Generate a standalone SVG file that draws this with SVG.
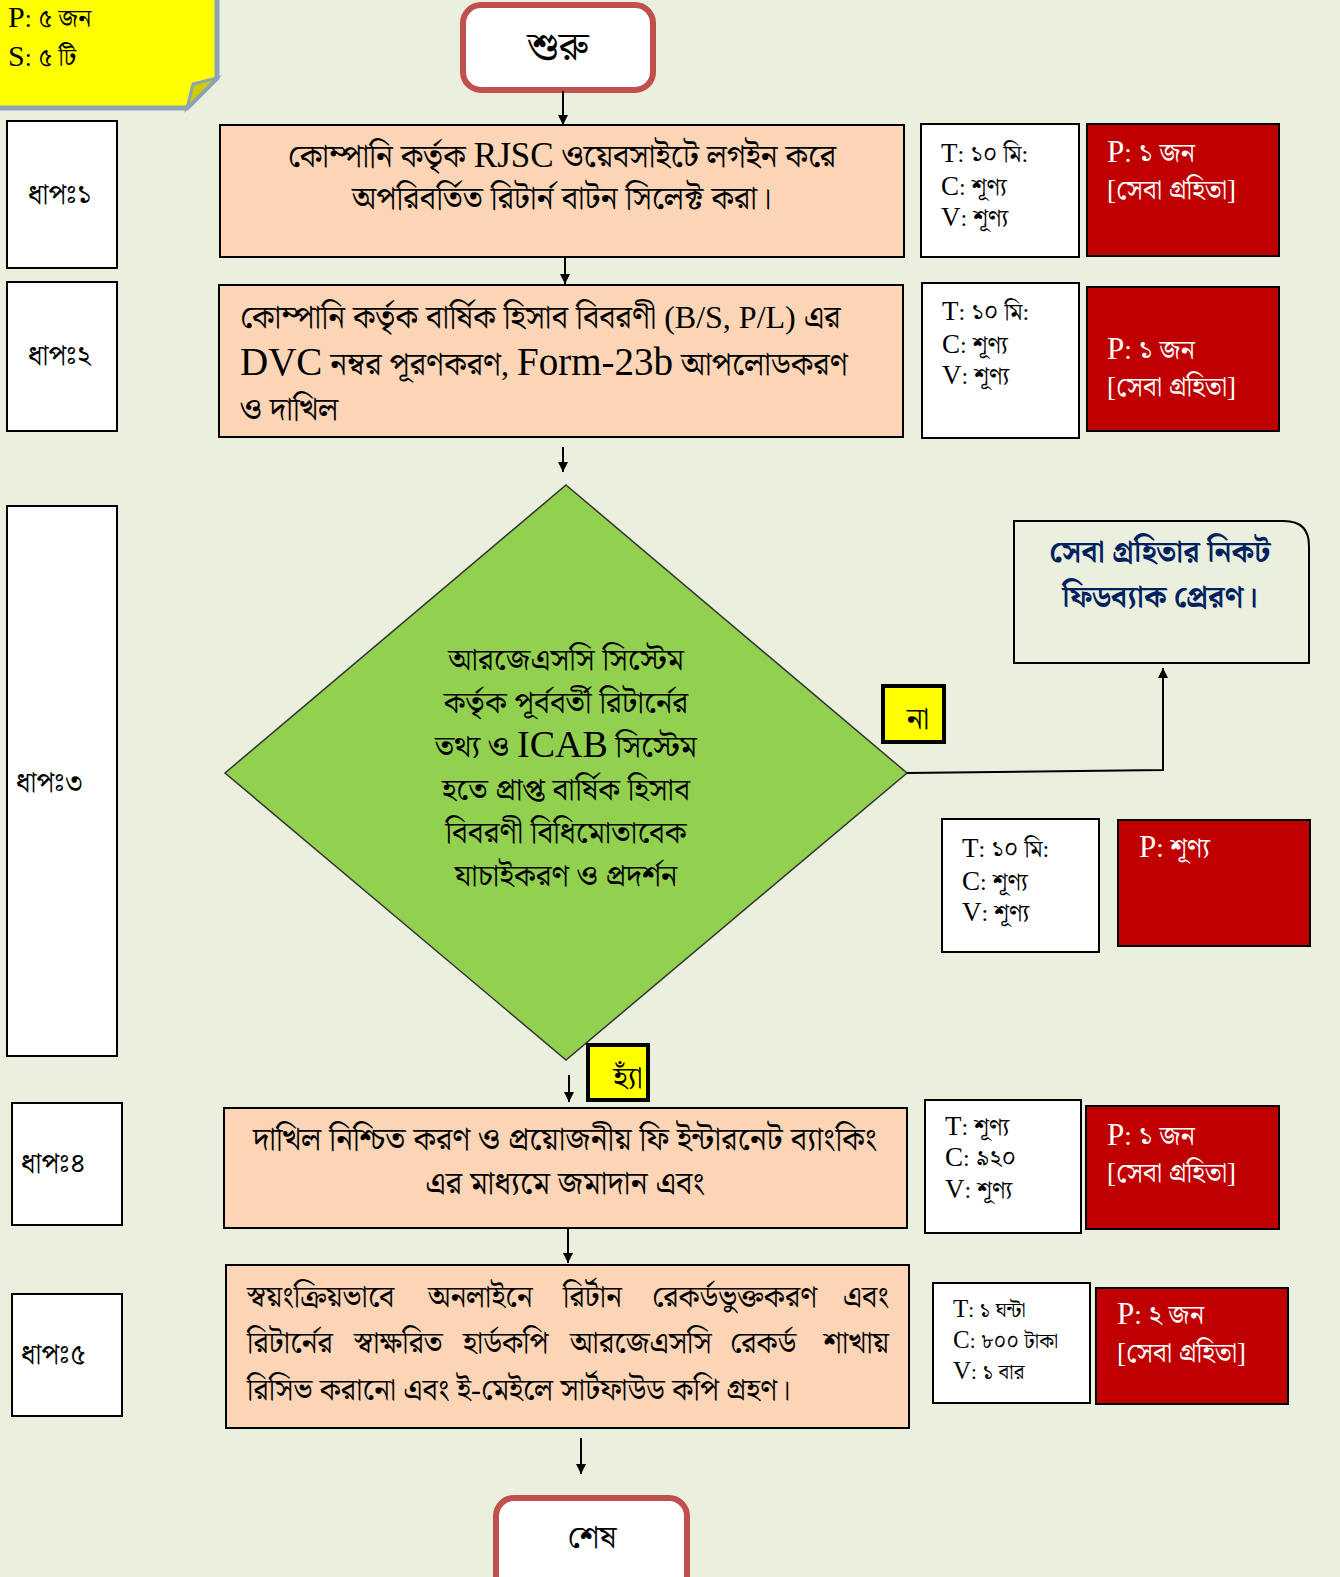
<svg xmlns="http://www.w3.org/2000/svg" width="1340" height="1577" viewBox="0 0 1340 1577">
<style>
text{font-family:"Liberation Serif","Noto Serif Bengali","Noto Sans Bengali","Lohit Bengali",serif;fill:#000}
.proc{fill:#FBD5B5;stroke:#000;stroke-width:2}
.step{fill:#fff;stroke:#000;stroke-width:2}
.tcv{fill:#fff;stroke:#000;stroke-width:2}
.red{fill:#C00000;stroke:#000;stroke-width:2}
.term{fill:#fff;stroke:#C0504D;stroke-width:6}
.lbl{fill:#FFFF00;stroke:#000;stroke-width:4}
.t30{font-size:32px}
.t5{font-size:30px}
.dt{font-size:31px}
.st{font-size:28px}
.tv{font-size:27px}
.tv tspan.b{font-size:24px}
.w{fill:#fff;font-size:31px}
.w tspan.b{font-size:27px}
.conn{stroke:#000;stroke-width:2;fill:none}
</style>
<defs>
<marker id="ah" viewBox="0 0 10 10" refX="10" refY="5" markerWidth="10" markerHeight="10" markerUnits="userSpaceOnUse" orient="auto">
<path d="M0,0 L10,5 L0,10 z" fill="#000"/>
</marker>
</defs>
<rect width="1340" height="1577" fill="#EAF0DD"/>

<g id="note">
<path d="M-5,-5 H217 V78 L187,108 H-5 Z" fill="#FFFF00" stroke="#8FA3B5" stroke-width="5"/>
<path d="M217,78 L193,84 L187,108 Z" fill="#CCCC00" stroke="#8FA3B5" stroke-width="3"/>
<text x="8" y="27" font-size="30">P<tspan font-size="25">: ৫ জন</tspan></text>
<text x="8" y="66" font-size="30">S<tspan font-size="25">: ৫ টি</tspan></text>
</g>

<g id="start">
<rect class="term" x="463" y="5" width="190" height="85" rx="18"/>
<text x="558" y="60" font-size="40" text-anchor="middle">শুরু</text>
</g>

<g id="steps">
<g id="step1"><rect class="step" x="7" y="121" width="110" height="147"/><text class="st" x="28" y="204">ধাপঃ১</text></g>
<g id="step2"><rect class="step" x="7" y="282" width="110" height="149"/><text class="st" x="28" y="365">ধাপঃ২</text></g>
<g id="step3"><rect class="step" x="7" y="506" width="110" height="550"/><text class="st" x="16" y="792">ধাপঃ৩</text></g>
<g id="step4"><rect class="step" x="12" y="1103" width="110" height="122"/><text class="st" x="21" y="1173">ধাপঃ৪</text></g>
<g id="step5"><rect class="step" x="12" y="1294" width="110" height="122"/><text class="st" x="21" y="1364">ধাপঃ৫</text></g>
</g>

<g id="box1">
<rect class="proc" x="220" y="125" width="684" height="132"/>
<text class="t30" x="562" y="167" text-anchor="middle">কোম্পানি কর্তৃক <tspan font-size="35">RJSC</tspan> ওয়েবসাইটে লগইন করে</text>
<text class="t30" x="562" y="209" text-anchor="middle">অপরিবর্তিত রিটার্ন বাটন সিলেক্ট করা।</text>
</g>
<g id="tcv1">
<rect class="tcv" x="921" y="124" width="158" height="133"/>
<text class="tv" x="941" y="162">T<tspan class="b">: ১০ মি:</tspan></text>
<text class="tv" x="941" y="195">C<tspan class="b">: শূণ্য</tspan></text>
<text class="tv" x="941" y="226">V<tspan class="b">: শূণ্য</tspan></text>
</g>
<g id="res1">
<rect class="red" x="1087" y="124" width="192" height="132"/>
<text class="w" x="1107" y="162">P<tspan class="b">: ১ জন</tspan></text>
<text class="w" x="1107" y="199"><tspan class="b">[সেবা গ্রহিতা]</tspan></text>
</g>

<g id="box2">
<rect class="proc" x="219" y="285" width="684" height="152"/>
<text class="t30" x="240" y="328">কোম্পানি কর্তৃক বার্ষিক হিসাব বিবরণী (B/S, P/L) এর</text>
<text class="t30" x="240" y="375"><tspan font-size="39">DVC</tspan> নম্বর পূরণকরণ, <tspan font-size="39">Form-23b</tspan> আপলোডকরণ</text>
<text class="t30" x="240" y="420">ও দাখিল</text>
</g>
<g id="tcv2">
<rect class="tcv" x="922" y="283" width="157" height="155"/>
<text class="tv" x="942" y="320">T<tspan class="b">: ১০ মি:</tspan></text>
<text class="tv" x="942" y="353">C<tspan class="b">: শূণ্য</tspan></text>
<text class="tv" x="942" y="384">V<tspan class="b">: শূণ্য</tspan></text>
</g>
<g id="res2">
<rect class="red" x="1087" y="287" width="192" height="144"/>
<text class="w" x="1107" y="359">P<tspan class="b">: ১ জন</tspan></text>
<text class="w" x="1107" y="396"><tspan class="b">[সেবা গ্রহিতা]</tspan></text>
</g>

<g id="decision">
<path d="M566,485 L907,773 L566,1060 L225,773 Z" fill="#92D050" stroke="#333" stroke-width="1.5"/>
<text class="dt" x="566" y="670" text-anchor="middle">আরজেএসসি সিস্টেম</text>
<text class="dt" x="566" y="713" text-anchor="middle">কর্তৃক পূর্ববর্তী রিটার্নের</text>
<text class="dt" x="566" y="757" text-anchor="middle">তথ্য ও <tspan font-size="38">ICAB</tspan> সিস্টেম</text>
<text class="dt" x="566" y="800" text-anchor="middle">হতে প্রাপ্ত  বার্ষিক হিসাব</text>
<text class="dt" x="566" y="843" text-anchor="middle">বিবরণী বিধিমোতাবেক</text>
<text class="dt" x="566" y="886" text-anchor="middle">যাচাইকরণ ও প্রদর্শন</text>
</g>

<g id="no-label">
<rect class="lbl" x="883" y="686" width="61" height="56"/>
<text x="918" y="729" font-size="31" text-anchor="middle">না</text>
</g>

<g id="feedback">
<path d="M1014,521 H1284 Q1309,521 1309,546 V663 H1014 Z" fill="#EAF0DD" stroke="#000" stroke-width="2"/>
<text x="1160" y="562" font-size="30" font-weight="bold" text-anchor="middle" style="fill:#002060">সেবা গ্রহিতার নিকট</text>
<text x="1160" y="607" font-size="30" font-weight="bold" text-anchor="middle" style="fill:#002060">ফিডব্যাক প্রেরণ।</text>
</g>

<g id="tcv3">
<rect class="tcv" x="942" y="819" width="157" height="133"/>
<text class="tv" x="962" y="857">T<tspan class="b">: ১০ মি:</tspan></text>
<text class="tv" x="962" y="890">C<tspan class="b">: শূণ্য</tspan></text>
<text class="tv" x="962" y="921">V<tspan class="b">: শূণ্য</tspan></text>
</g>
<g id="res3">
<rect class="red" x="1118" y="820" width="192" height="126"/>
<text class="w" x="1139" y="857">P<tspan class="b">: শূণ্য</tspan></text>
</g>

<g id="yes-label">
<rect class="lbl" x="588" y="1045" width="60" height="55"/>
<text x="628" y="1088" font-size="31" text-anchor="middle">হ্যাঁ</text>
</g>

<g id="box4">
<rect class="proc" x="224" y="1108" width="683" height="120"/>
<text class="t30" x="565" y="1150" text-anchor="middle">দাখিল নিশ্চিত করণ ও প্রয়োজনীয় ফি ইন্টারনেট ব্যাংকিং</text>
<text class="t30" x="565" y="1194" text-anchor="middle">এর মাধ্যমে জমাদান এবং</text>
</g>
<g id="tcv4">
<rect class="tcv" x="925" y="1100" width="156" height="133"/>
<text class="tv" x="945" y="1135">T<tspan class="b">: শূণ্য</tspan></text>
<text class="tv" x="945" y="1166">C<tspan class="b">: ৯২০</tspan></text>
<text class="tv" x="945" y="1198">V<tspan class="b">: শূণ্য</tspan></text>
</g>
<g id="res4">
<rect class="red" x="1086" y="1106" width="193" height="123"/>
<text class="w" x="1107" y="1145">P<tspan class="b">: ১ জন</tspan></text>
<text class="w" x="1107" y="1182"><tspan class="b">[সেবা গ্রহিতা]</tspan></text>
</g>

<g id="box5">
<rect class="proc" x="226" y="1265" width="683" height="163"/>
<text class="t5" y="1307"><tspan x="247">স্বয়ংক্রিয়ভাবে</tspan><tspan x="428">অনলাইনে</tspan><tspan x="563">রির্টান</tspan><tspan x="652">রেকর্ডভুক্তকরণ</tspan><tspan x="889" text-anchor="end">এবং</tspan></text>
<text class="t5" y="1353"><tspan x="247">রিটার্নের</tspan><tspan x="354">স্বাক্ষরিত</tspan><tspan x="463">হার্ডকপি</tspan><tspan x="570">আরজেএসসি</tspan><tspan x="730">রেকর্ড</tspan><tspan x="889" text-anchor="end">শাখায়</tspan></text>
<text class="t5" x="247" y="1400">রিসিভ করানো এবং ই-মেইলে সার্টফাউড কপি গ্রহণ।</text>
</g>
<g id="tcv5">
<rect class="tcv" x="933" y="1283" width="157" height="120"/>
<text x="953" y="1317" font-size="25">T<tspan font-size="21">: ১ ঘন্টা</tspan></text>
<text x="953" y="1348" font-size="25">C<tspan font-size="21">: ৮০০ টাকা</tspan></text>
<text x="953" y="1379" font-size="25">V<tspan font-size="21">: ১ বার</tspan></text>
</g>
<g id="res5">
<rect class="red" x="1096" y="1288" width="192" height="116"/>
<text class="w" x="1117" y="1324">P<tspan class="b">: ২ জন</tspan></text>
<text class="w" x="1117" y="1362"><tspan class="b">[সেবা গ্রহিতা]</tspan></text>
</g>

<g id="end">
<rect class="term" x="496" y="1498" width="191" height="100" rx="18"/>
<text x="592" y="1548" font-size="32" text-anchor="middle">শেষ</text>
</g>

<g id="connectors">
<line class="conn" x1="563" y1="91" x2="563" y2="125" marker-end="url(#ah)"/>
<line class="conn" x1="565" y1="257" x2="565" y2="284" marker-end="url(#ah)"/>
<line class="conn" x1="563" y1="447" x2="563" y2="472" marker-end="url(#ah)"/>
<polyline class="conn" points="907,773 1163,770 1163,668" marker-end="url(#ah)"/>
<line class="conn" x1="569" y1="1075" x2="569" y2="1102" marker-end="url(#ah)"/>
<line class="conn" x1="568" y1="1228" x2="568" y2="1263" marker-end="url(#ah)"/>
<line class="conn" x1="581" y1="1438" x2="581" y2="1474" marker-end="url(#ah)"/>
</g>
</svg>
